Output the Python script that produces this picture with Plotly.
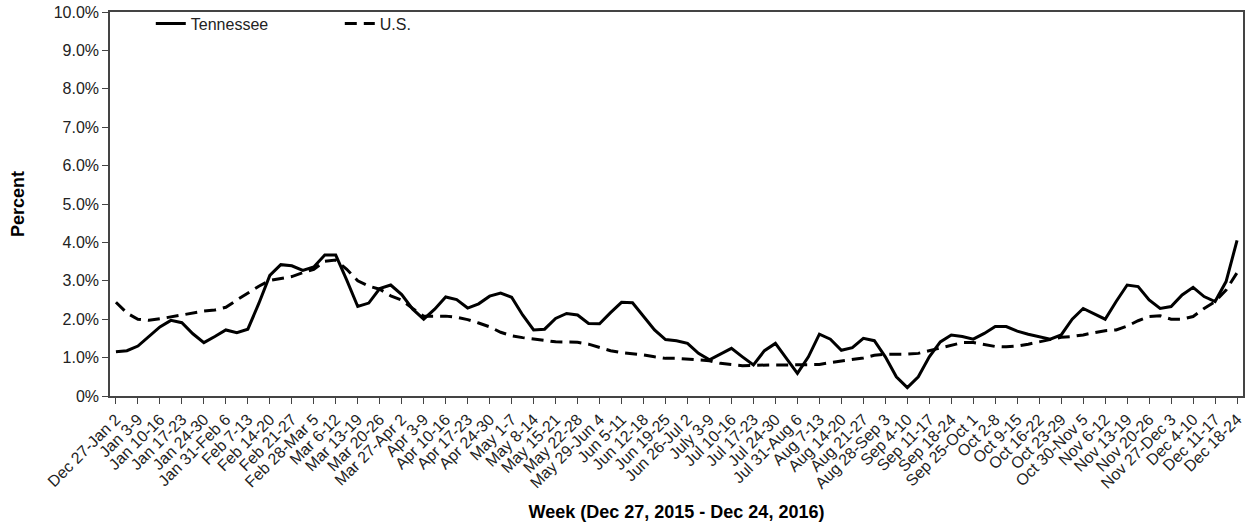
import numpy as np
import plotly.graph_objects as go

week_labels = [
    "Dec 27-Jan 2", "Jan 3-9", "Jan 10-16", "Jan 17-23", "Jan 24-30", "Jan 31-Feb 6",
    "Feb 7-13", "Feb 14-20", "Feb 21-27", "Feb 28-Mar 5", "Mar 6-12", "Mar 13-19",
    "Mar 20-26", "Mar 27-Apr 2", "Apr 3-9", "Apr 10-16", "Apr 17-23", "Apr 24-30",
    "May 1-7", "May 8-14", "May 15-21", "May 22-28", "May 29-Jun 4", "Jun 5-11",
    "Jun 12-18", "Jun 19-25", "Jun 26-Jul 2", "July 3-9", "Jul 10-16", "Jul 17-23",
    "Jul 24-30", "Jul 31-Aug 6", "Aug 7-13", "Aug 14-20", "Aug 21-27", "Aug 28-Sep 3",
    "Sep 4-10", "Sep 11-17", "Sep 18-24", "Sep 25-Oct 1", "Oct 2-8", "Oct 9-15",
    "Oct 16-22", "Oct 23-29", "Oct 30-Nov 5", "Nov 6-12", "Nov 13-19", "Nov 20-26",
    "Nov 27-Dec 3", "Dec 4-10", "Dec 11-17", "Dec 18-24",
]

# values read at half-week steps (week index 0, 0.5, 1, ... 51)
tn_pct = [
    1.15, 1.18, 1.30, 1.56, 1.80, 1.97, 1.91, 1.62, 1.39, 1.55,
    1.72, 1.65, 1.74, 2.41, 3.14, 3.42, 3.39, 3.27, 3.36, 3.67,
    3.67, 3.02, 2.33, 2.42, 2.80, 2.89, 2.64, 2.26, 2.00, 2.26,
    2.58, 2.51, 2.29, 2.40, 2.60, 2.68, 2.57, 2.11, 1.72, 1.74,
    2.02, 2.15, 2.11, 1.89, 1.88, 2.17, 2.44, 2.43, 2.08, 1.72,
    1.47, 1.44, 1.37, 1.11, 0.94, 1.09, 1.24, 1.02, 0.81, 1.18,
    1.37, 0.98, 0.59, 1.02, 1.61, 1.48, 1.19, 1.26, 1.50, 1.44,
    1.02, 0.50, 0.22, 0.50, 1.02, 1.41, 1.59, 1.55, 1.48, 1.63,
    1.81, 1.81, 1.69, 1.61, 1.55, 1.48, 1.59, 2.00, 2.28, 2.13,
    2.00, 2.46, 2.89, 2.85, 2.50, 2.28, 2.33, 2.63, 2.83, 2.59,
    2.46, 2.98, 4.05,
]

us_pct = [
    2.44, 2.16, 2.00, 1.97, 2.01, 2.06, 2.09, 2.16, 2.21, 2.24,
    2.31, 2.50, 2.68, 2.86, 3.01, 3.06, 3.11, 3.21, 3.30, 3.51,
    3.54, 3.30, 3.00, 2.86, 2.78, 2.61, 2.50, 2.28, 2.08, 2.08,
    2.08, 2.05, 1.99, 1.90, 1.80, 1.66, 1.57, 1.52, 1.49, 1.45,
    1.41, 1.40, 1.40, 1.35, 1.27, 1.18, 1.13, 1.10, 1.07, 1.02,
    0.98, 0.98, 0.96, 0.95, 0.92, 0.85, 0.82, 0.79, 0.80, 0.81,
    0.81, 0.81, 0.81, 0.81, 0.82, 0.87, 0.91, 0.95, 0.99, 1.06,
    1.09, 1.09, 1.09, 1.11, 1.18, 1.25, 1.32, 1.39, 1.39, 1.34,
    1.29, 1.28, 1.30, 1.35, 1.41, 1.48, 1.53, 1.55, 1.59, 1.65,
    1.70, 1.72, 1.82, 1.96, 2.07, 2.09, 2.00, 2.00, 2.07, 2.28,
    2.46, 2.76, 3.21,
]

y_ticks = list(range(0, 11))
y_tick_text = ["0%"] + [f"{v:.1f}%" for v in y_ticks[1:]]

x_pos = np.arange(len(tn_pct)) * 0.5
week_pos = list(range(len(week_labels)))

FONT = "Liberation Sans, Arial, sans-serif"

fig = go.Figure()
fig.add_trace(go.Scatter(
    x=x_pos, y=tn_pct, mode="lines", name="Tennessee",
    line=dict(color="black", width=3),
))
fig.add_trace(go.Scatter(
    x=x_pos, y=us_pct, mode="lines", name="U.S.",
    line=dict(color="black", width=3, dash="12px,7px"),
))

fig.update_layout(
    width=1249, height=526,
    margin=dict(l=110, r=6, t=12, b=130),
    paper_bgcolor="white", plot_bgcolor="white",
    font=dict(family=FONT, size=16, color="#222"),
    showlegend=True,
    legend=dict(
        orientation="h", x=0.036, y=1.014, xanchor="left", yanchor="top",
        bgcolor="rgba(0,0,0,0)", font=dict(size=16, color="#222"),
        entrywidth=144, entrywidthmode="pixels",
    ),
    xaxis=dict(
        range=[-0.27, 51.27], tickmode="array", tickvals=week_pos, ticktext=week_labels,
        tickangle=-45, ticks="outside", ticklen=6, tickcolor="#444", tickwidth=1,
        showline=True, linecolor="#444", linewidth=1.5, mirror=True,
        showgrid=False, zeroline=False, automargin=False, ticklabeloverflow="allow",
        tickfont=dict(size=16, color="#222"),
        title=dict(text="<b>Week (Dec 27, 2015 - Dec 24, 2016)</b>",
                   font=dict(size=18, color="black"), standoff=14),
    ),
    yaxis=dict(
        range=[0, 10], tickmode="array", tickvals=y_ticks, ticktext=y_tick_text,
        ticks="outside", ticklen=6, tickcolor="#444", tickwidth=1,
        showline=True, linecolor="#444", linewidth=1.5, mirror=True,
        showgrid=False, zeroline=False, automargin=False, ticklabeloverflow="allow",
        tickfont=dict(size=16, color="#222"),
        title=dict(text="<b>Percent</b>", font=dict(size=18, color="black"), standoff=24),
    ),
)

fig.write_html("out.html", config={"displayModeBar": False},
               post_script="document.body.style.margin='0';")
